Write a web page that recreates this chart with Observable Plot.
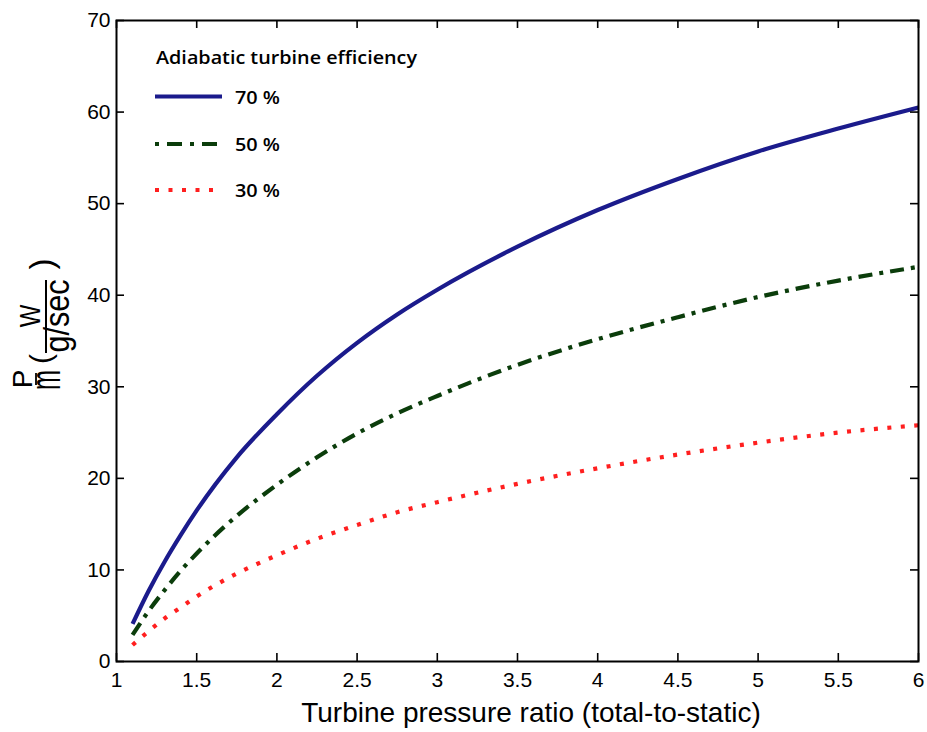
<!DOCTYPE html>
<html>
<head>
<meta charset="utf-8">
<script src="https://cdn.jsdelivr.net/npm/d3@7"></script>
<script src="https://cdn.jsdelivr.net/npm/@observablehq/plot@0.6"></script>
<style>
  html, body { margin: 0; padding: 0; background: #fff; }
  #chart { width: 927px; height: 732px; }
</style>
</head>
<body>
<div id="chart"></div>
<script>
// ---- data ----
const pressureRatio = [1.1, 1.2, 1.3, 1.4, 1.5, 1.75, 2, 2.25, 2.5, 2.75, 3, 3.5, 4, 4.5, 5, 5.5, 6];
const eff70 = [4.1, 7.7, 10.9, 13.8, 16.5, 22.3, 27.0, 31.2, 34.8, 37.9, 40.6, 45.3, 49.3, 52.7, 55.7, 58.2, 60.5];
const eff50 = [2.9, 5.5, 7.8, 9.9, 11.8, 15.9, 19.3, 22.3, 24.9, 27.1, 29.0, 32.4, 35.2, 37.6, 39.8, 41.6, 43.1];
const eff30 = [1.8, 3.3, 4.7, 5.9, 7.1, 9.6, 11.6, 13.4, 14.9, 16.3, 17.4, 19.4, 21.1, 22.6, 23.9, 25.0, 25.8];
const seriesNames = ["70 %", "50 %", "30 %"];
const xTicks = [1, 1.5, 2, 2.5, 3, 3.5, 4, 4.5, 5, 5.5, 6];
const xTickLabels = ["1", "1.5", "2", "2.5", "3", "3.5", "4", "4.5", "5", "5.5", "6"];
const yTicks = [0, 10, 20, 30, 40, 50, 60, 70];
const yTickLabels = ["0", "10", "20", "30", "40", "50", "60", "70"];
const legendTitle = "Adiabatic turbine efficiency";
const xTitle = "Turbine pressure ratio (total-to-static)";

// ---- styles ----
const styles = [
  {stroke: "#1b1b8c", strokeWidth: 4.2, dash: null},
  {stroke: "#0b3d0b", strokeWidth: 4.2, dash: "14,7,4,7"},
  {stroke: "#ff1f1f", strokeWidth: 4.2, dash: "4,9.5"}
];

const seriesValues = [eff70, eff50, eff30];
const rows = [];
seriesValues.forEach((vals, si) => {
  vals.forEach((v, i) => rows.push({series: seriesNames[si], x: pressureRatio[i], y: v}));
});

const tickFont = "'Liberation Sans', Arial, sans-serif";
const W = 927, H = 732;
const mL = 116, mR = 9, mT = 20, mB = 71;
const innerW = W - mL - mR, innerH = H - mT - mB;
const tickLen = 8;

const lineMarks = seriesNames.map((name, si) => Plot.line(rows.filter(d => d.series === name), {
  x: "x", y: "y",
  stroke: styles[si].stroke,
  strokeWidth: styles[si].strokeWidth,
  strokeDasharray: styles[si].dash,
  strokeLinecap: "butt",
  curve: "monotone-x"
}));

const plot = Plot.plot({
  width: W, height: H,
  marginLeft: mL, marginRight: mR, marginTop: mT, marginBottom: mB,
  style: {fontFamily: tickFont, background: "#fff", color: "#000"},
  x: {domain: [1, 6]},
  y: {domain: [0, 70]},
  marks: [
    ...lineMarks,
    // inward ticks on all four sides
    Plot.tickX(xTicks, {x: d => d, insetTop: innerH - tickLen, stroke: "#000", strokeWidth: 1.6}),
    Plot.tickX(xTicks, {x: d => d, insetBottom: innerH - tickLen, stroke: "#000", strokeWidth: 1.6}),
    Plot.tickY(yTicks, {y: d => d, insetRight: innerW - tickLen, stroke: "#000", strokeWidth: 1.6}),
    Plot.tickY(yTicks, {y: d => d, insetLeft: innerW - tickLen, stroke: "#000", strokeWidth: 1.6}),
    Plot.axisX(xTicks, {tickSize: 0, tickPadding: 11, fontSize: 21, tickFormat: (d, i) => xTickLabels[i], label: null, fill: "#000", fontWeight: 500}),
    Plot.axisY(yTicks, {tickSize: 0, tickPadding: 6, fontSize: 21, tickFormat: (d, i) => yTickLabels[i], label: null, fill: "#000", fontWeight: 500}),
    Plot.frame({stroke: "#000", strokeWidth: 2})
  ]
});

document.getElementById("chart").appendChild(plot);

// ---- titles and legend ----
const svg = d3.select(plot);

svg.append("text")
  .attr("x", 531).attr("y", 722)
  .attr("text-anchor", "middle")
  .attr("font-family", "'Liberation Sans', Arial, sans-serif")
  .attr("font-size", 28)
  .attr("fill", "#000")
  .text(xTitle);

// y-axis label:  P/m ( W / g/sec ), rotated: local x = -screenY, local y = screenX
const yl = svg.append("g")
  .attr("transform", "rotate(-90)")
  .attr("font-family", "'Liberation Sans', Arial, sans-serif")
  .attr("fill", "#000")
  .attr("text-anchor", "middle");
yl.append("text").attr("x", -379).attr("y", 32).attr("font-size", 28).text("P");
yl.append("line").attr("x1", -385).attr("x2", -373).attr("y1", 36).attr("y2", 36).attr("stroke", "#000").attr("stroke-width", 1.8);
yl.append("text").attr("transform", "translate(-380,60) scale(0.8,1.4)").attr("font-size", 30).text("m");
yl.append("text").attr("x", -359).attr("y", 51).attr("font-size", 30).text("(");
yl.append("text").attr("transform", "translate(-316,40) scale(0.8,1)").attr("font-size", 30).text("W");
yl.append("line").attr("x1", -353).attr("x2", -280).attr("y1", 46).attr("y2", 46).attr("stroke", "#000").attr("stroke-width", 2);
yl.append("text").attr("transform", "translate(-316,68.5) scale(0.85,1)").attr("font-size", 36).text("g/sec");
yl.append("text").attr("x", -264).attr("y", 53).attr("font-size", 33).text(")");

// legend
const lg = svg.append("g")
  .attr("font-family", "'Open Sans', 'Liberation Sans', Arial, sans-serif")
  .attr("fill", "#000")
  .attr("text-anchor", "start");
lg.append("text").attr("x", 156).attr("y", 64).attr("font-size", 17.5).attr("font-weight", 600)
  .attr("textLength", 261).attr("lengthAdjust", "spacingAndGlyphs").text(legendTitle);
const legendY = [96.5, 144, 190];
seriesNames.forEach((name, si) => {
  lg.append("line")
    .attr("x1", 155).attr("x2", 222)
    .attr("y1", legendY[si]).attr("y2", legendY[si])
    .attr("stroke", styles[si].stroke)
    .attr("stroke-width", styles[si].strokeWidth)
    .attr("stroke-dasharray", si === 1 ? "4,8,15,8" : styles[si].dash);
  lg.append("text").attr("x", 235).attr("y", legendY[si] + 7)
    .attr("font-size", 18).attr("font-weight", 600)
    .attr("textLength", 45).attr("lengthAdjust", "spacingAndGlyphs").text(name);
});
</script>
</body>
</html>
